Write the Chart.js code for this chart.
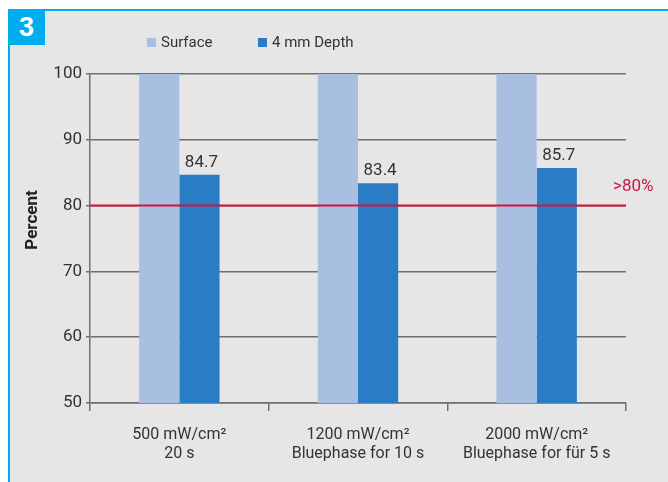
<!DOCTYPE html>
<html>
<head>
<meta charset="utf-8">
<script src="https://cdn.jsdelivr.net/npm/chart.js@4/dist/chart.umd.min.js"></script>
<style>
  html, body { margin: 0; padding: 0; background: #fff; }
  body { width: 668px; height: 482px; position: relative; overflow: hidden; }
  #panel {
    position: absolute; left: 8px; top: 9px; right: 0; bottom: 0;
    background: #e6e6e6; border-left: 2px solid #00aeef; border-top: 2px solid #00aeef;
  }
  #badge {
    position: absolute; left: 8px; top: 9px; width: 37px; height: 36px;
    background: #00aeef; color: #fff; font: bold 27px "Liberation Sans", Arial, sans-serif;
    text-align: center; line-height: 36px;
  }
  #wrap { position: absolute; left: 10px; top: 11px; width: 658px; height: 471px; }
</style>
</head>
<body>
<div id="panel"></div>
<div id="badge">3</div>
<div id="wrap"><canvas id="myChart"></canvas></div>
<script>
const FONT = '"Roboto", sans-serif'

// data
const categories = [
    ['500 mW/cm²', '20 s'],
    ['1200 mW/cm²', 'Bluephase for 10 s'],
    ['2000 mW/cm²', 'Bluephase for für 5 s']
]
const surface = [100, 100, 100]
const depth = [84.7, 83.4, 85.7]
const seriesNames = ['Surface', '4 mm Depth']
const yTicks = [50, 60, 70, 80, 90, 100]
const threshold = 80
const thresholdLabel = '>80%'
const axisTitle = 'Percent'

const colors = ['#a9bfe1', '#2a7dc4']

// legend, axis title, value labels and the 80% line
const extras = {
    id: 'extras',
    afterDatasetsDraw(chart) {
        const { ctx, chartArea, scales } = chart
        ctx.save()

        // threshold line
        const ty = scales.y.getPixelForValue(threshold)
        ctx.strokeStyle = '#d3123f'
        ctx.lineWidth = 2
        ctx.beginPath()
        ctx.moveTo(chartArea.left, ty)
        ctx.lineTo(chartArea.right, ty)
        ctx.stroke()
        ctx.fillStyle = '#d3123f'
        ctx.font = '17px ' + FONT
        ctx.textAlign = 'left'
        ctx.textBaseline = 'middle'
        ctx.fillText(thresholdLabel, chartArea.right - 13, ty - 19)

        // value labels over the depth bars
        ctx.fillStyle = '#333'
        ctx.font = '17px ' + FONT
        ctx.textAlign = 'center'
        ctx.textBaseline = 'alphabetic'
        chart.getDatasetMeta(1).data.forEach((bar, i) => {
            ctx.fillText(depth[i].toFixed(1), bar.x + 2, bar.y - 8)
        })

        // legend
        ctx.font = '15px ' + FONT
        ctx.textBaseline = 'middle'
        ctx.textAlign = 'left'
        const lx = [chartArea.left + 57, chartArea.left + 168]
        seriesNames.forEach((name, i) => {
            ctx.fillStyle = colors[i]
            ctx.fillRect(lx[i], 27, 9, 9)
            ctx.fillStyle = '#333'
            ctx.fillText(name, lx[i] + 14, 32)
        })

        // y title
        ctx.translate(23, 209)
        ctx.rotate(-Math.PI / 2)
        ctx.font = 'bold 17px ' + FONT
        ctx.fillStyle = '#222'
        ctx.textAlign = 'center'
        ctx.fillText(axisTitle, 0, 0)
        ctx.restore()
    }
}

const config = {
    type: 'bar',
    data: {
        labels: categories,
        datasets: [
            { label: seriesNames[0], data: surface, backgroundColor: colors[0] },
            { label: seriesNames[1], data: depth, backgroundColor: colors[1] }
        ]
    },
    options: {
        responsive: true,
        maintainAspectRatio: false,
        animation: false,
        categoryPercentage: 0.45,
        barPercentage: 1,
        layout: { padding: { left: 0, top: 63, right: 42, bottom: 17 } },
        plugins: { legend: { display: false }, tooltip: { enabled: false } },
        scales: {
            x: {
                grid: { display: true, drawOnChartArea: false, offset: true, tickLength: 8, color: '#6f6f6f', lineWidth: 1.5 },
                border: { color: '#6f6f6f', width: 1.5 },
                ticks: { color: '#333', font: { family: FONT, size: 16, lineHeight: 1.2 }, padding: 14, maxRotation: 0 },
                afterFit: s => { s.height = 62 }
            },
            y: {
                min: 50,
                max: 100,
                afterBuildTicks: s => { s.ticks = yTicks.map(v => ({ value: v })) },
                grid: { color: '#6f6f6f', lineWidth: 1.5, tickLength: 4 },
                border: { color: '#6f6f6f', width: 1.5 },
                ticks: { color: '#333', font: { family: FONT, size: 17 }, padding: 4 },
                afterFit: s => { s.width = 80 }
            }
        }
    },
    plugins: [extras]
}

const myChart = new Chart(document.getElementById('myChart'), config)
</script>
</body>
</html>
